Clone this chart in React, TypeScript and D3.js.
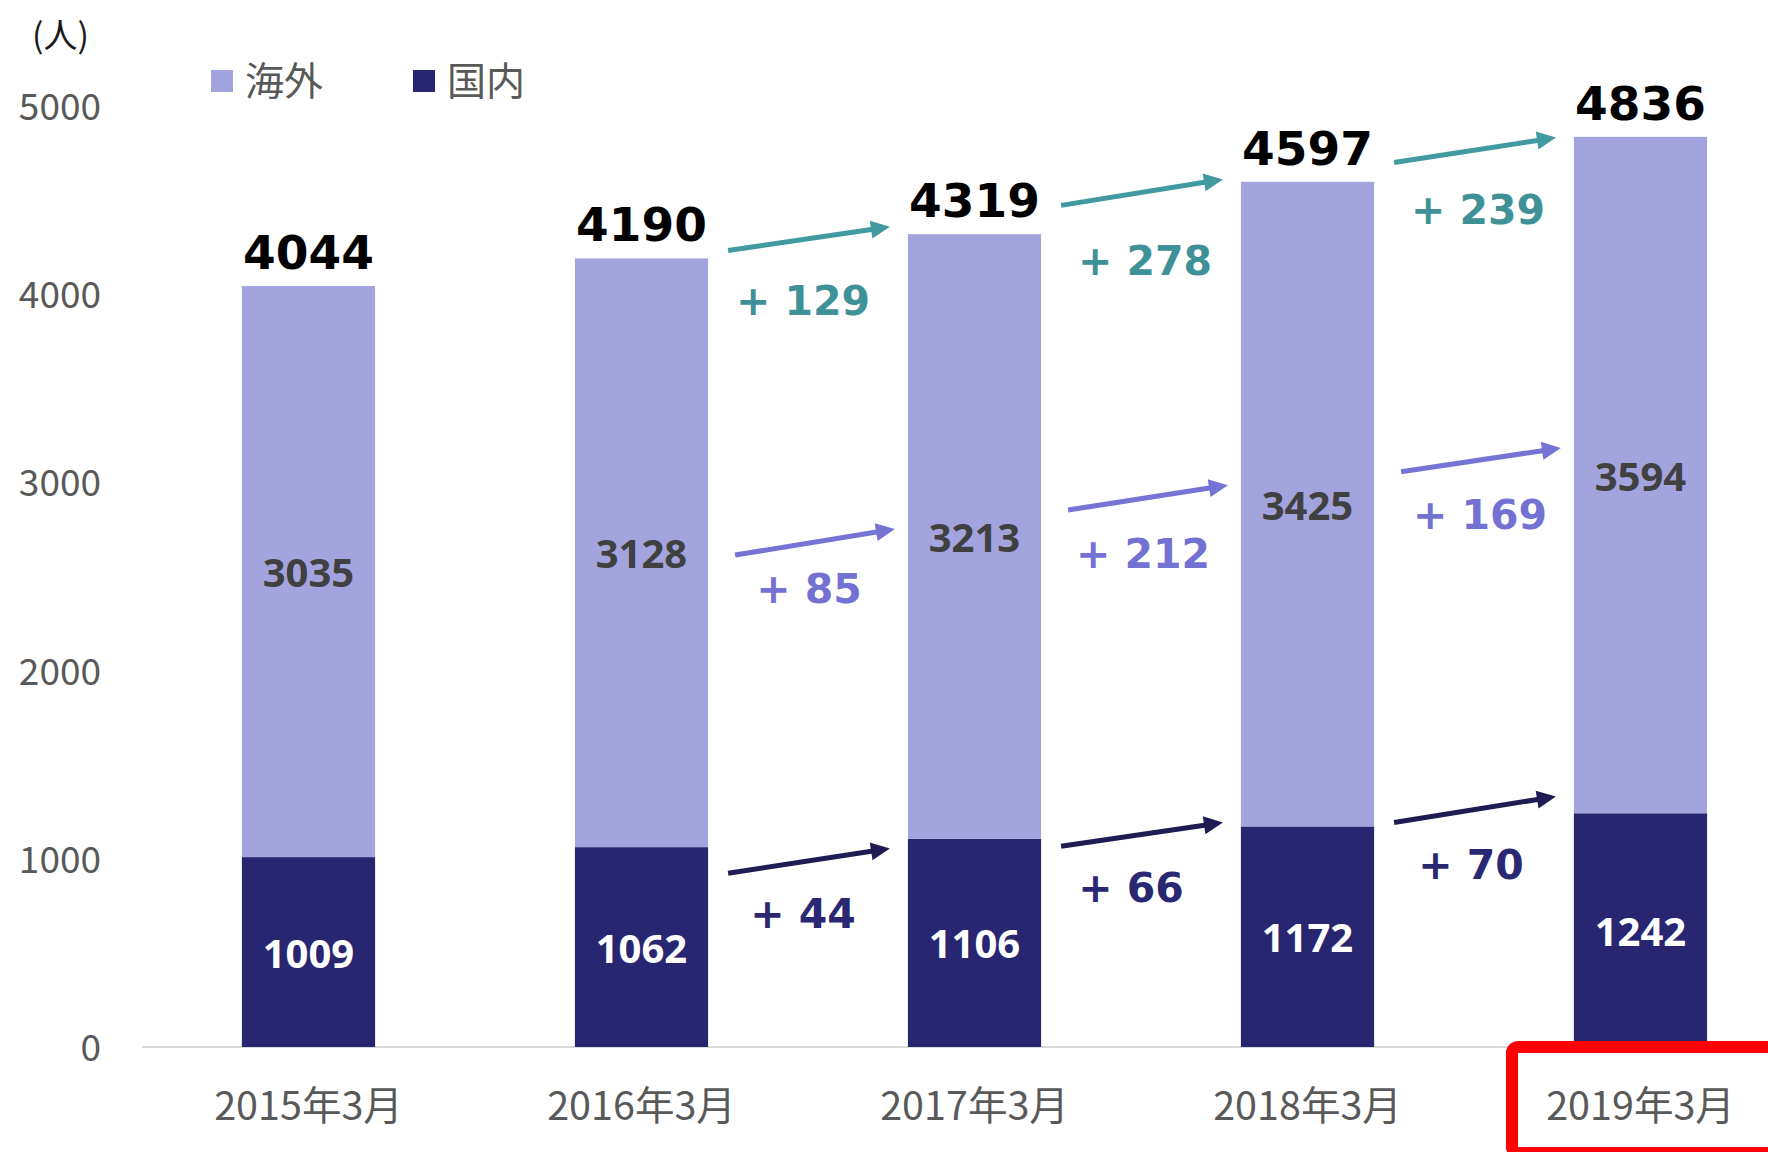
import React from 'react';
import * as d3 from 'd3';

// 人員推移 (人)
const categories = ['2015年3月', '2016年3月', '2017年3月', '2018年3月', '2019年3月'];
const domestic = [1009, 1062, 1106, 1172, 1242]; // 国内
const overseas = [3035, 3128, 3213, 3425, 3594]; // 海外
const yTicks = [0, 1000, 2000, 3000, 4000, 5000];

// arrow end heights (in 人) between bar i and bar i+1, starting from 2016
const totalArrowFrom = [4232, 4472, 4700];
const totalArrowTo = [4358, 4610, 4832];
const overseasArrowFrom = [2614, 2853, 3057];
const overseasArrowTo = [2752, 2985, 3183];
const domesticArrowFrom = [923, 1067, 1193];
const domesticArrowTo = [1055, 1193, 1331];
// where the "+ n" labels sit (in 人)
const totalLabelAt = [3969, 4184, 4454];
const overseasLabelAt = [2440, 2626, 2830];
const domesticLabelAt = [713, 851, 971];

const W = 1768;
const H = 1152;

const C_OVER = '#A3A3DE';
const C_DOM = '#282670';
const C_TEAL = '#419A9F';
const C_PURPLE = '#7573D4';
const C_DARK = '#1E1C52';

const x = d3.scaleBand<string>()
  .domain(categories)
  .range([142, 1807])
  .paddingInner(0.6)
  .paddingOuter(0.3);

const y = d3.scaleLinear().domain([0, 5000]).range([1047, 106]);

const jp = '"Noto Sans CJK JP", "Noto Sans", sans-serif';
const verd = '"DejaVu Sans", Verdana, sans-serif';

function Arrow({ x1, y1, x2, y2, color }: { x1: number; y1: number; x2: number; y2: number; color: string }) {
  const ang = Math.atan2(y2 - y1, x2 - x1);
  const len = 19, hw = 9;
  const bx = x2 - len * Math.cos(ang);
  const by = y2 - len * Math.sin(ang);
  const px = -Math.sin(ang) * hw, py = Math.cos(ang) * hw;
  return (
    <g>
      <line x1={x1} y1={y1} x2={bx + 2 * Math.cos(ang)} y2={by + 2 * Math.sin(ang)} stroke={color} strokeWidth={5} />
      <polygon points={`${x2},${y2} ${bx + px},${by + py} ${bx - px},${by - py}`} fill={color} />
    </g>
  );
}

export default function App() {
  const bw = x.bandwidth();
  const totals = categories.map((_, i) => domestic[i] + overseas[i]);

  const series = [
    { from: totalArrowFrom, to: totalArrowTo, lab: totalLabelAt, dx: [-6, 3, 3], vals: totals, color: C_TEAL, textColor: '#3E9196', s0: 20, s1: 18 },
    { from: overseasArrowFrom, to: overseasArrowTo, lab: overseasLabelAt, dx: [-6, -5, -1], vals: overseas, color: C_PURPLE, textColor: '#7371D2', s0: 27, s1: 13 },
    { from: domesticArrowFrom, to: domesticArrowTo, lab: domesticLabelAt, dx: [-6, -11, -4], vals: domestic, color: C_DARK, textColor: '#2A2872', s0: 20, s1: 18 },
  ];

  return (
    <div style={{ position: 'fixed', left: 0, top: 0 }}>
      <svg width={W} height={H} style={{ display: 'block', background: '#fff' }}>
        {/* unit */}
        <text x={32} y={33} fontFamily={jp} fontSize={34} fill="#1a1a1a" dominantBaseline="central">(人)</text>

        {/* legend */}
        <rect x={211} y={70} width={22} height={22} fill={C_OVER} />
        <text x={245} y={78} fontFamily={jp} fontSize={39} fill="#595959" dominantBaseline="central">海外</text>
        <rect x={413} y={70} width={22} height={22} fill={C_DOM} />
        <text x={447} y={78} fontFamily={jp} fontSize={39} fill="#595959" dominantBaseline="central">国内</text>

        {/* y axis labels */}
        {yTicks.map(t => (
          <text key={t} x={101} y={y(t) - 2} textAnchor="end" dominantBaseline="central"
            fontFamily={jp} fontSize={37} fill="#595959">{t}</text>
        ))}

        {/* axis line */}
        <line x1={142} x2={W} y1={y(0)} y2={y(0)} stroke="#D9D9D9" strokeWidth={2} />

        {/* bars */}
        {categories.map((c, i) => {
          const x0 = x(c)!;
          return (
            <g key={c}>
              <rect x={x0} y={y(domestic[i])} width={bw} height={y(0) - y(domestic[i])} fill={C_DOM} />
              <rect x={x0} y={y(totals[i])} width={bw} height={y(domestic[i]) - y(totals[i])} fill={C_OVER} />
              <text x={x0 + bw / 2} y={y(domestic[i] / 2)} textAnchor="middle" dominantBaseline="central"
                fontFamily='"Noto Sans", sans-serif' fontWeight={700} fontSize={40} fill="#fff">{domestic[i]}</text>
              <text x={x0 + bw / 2} y={y(domestic[i] + overseas[i] / 2)} textAnchor="middle" dominantBaseline="central"
                fontFamily='"Noto Sans", sans-serif' fontWeight={700} fontSize={40} fill="#404040">{overseas[i]}</text>
              <text x={x0 + bw / 2} y={y(totals[i]) - 17} textAnchor="middle"
                fontFamily={verd} fontWeight={700} fontSize={47} fill="#000">{totals[i]}</text>
            </g>
          );
        })}

        {/* change arrows */}
        {series.map((s, si) => s.from.map((f, k) => {
          const i = k + 1;
          const xa = x(categories[i])! + bw + s.s0;
          const xb = x(categories[i + 1])! - s.s1;
          const ya = y(f), yb = y(s.to[k]);
          const mx = (xa + xb) / 2;
          const diff = s.vals[i + 1] - s.vals[i];
          return (
            <g key={`${si}-${k}`}>
              <Arrow x1={xa} y1={ya} x2={xb} y2={yb} color={s.color} />
              <text x={mx + s.dx[k]} y={y(s.lab[k]) + 15} textAnchor="middle" fontFamily={verd} fontWeight={700}
                fontSize={41} fill={s.textColor}>{`+ ${diff}`}</text>
            </g>
          );
        }))}

        {/* x labels */}
        {categories.map(c => (
          <text key={c} x={x(c)! + bw / 2} y={1102} textAnchor="middle" dominantBaseline="central"
            fontFamily={jp} fontSize={39.5} fill="#595959">{c}</text>
        ))}

        {/* highlight box */}
        <rect x={1512} y={1047} width={400} height={106} rx={6} fill="none" stroke="#FF0000" strokeWidth={12} />
      </svg>
    </div>
  );
}
